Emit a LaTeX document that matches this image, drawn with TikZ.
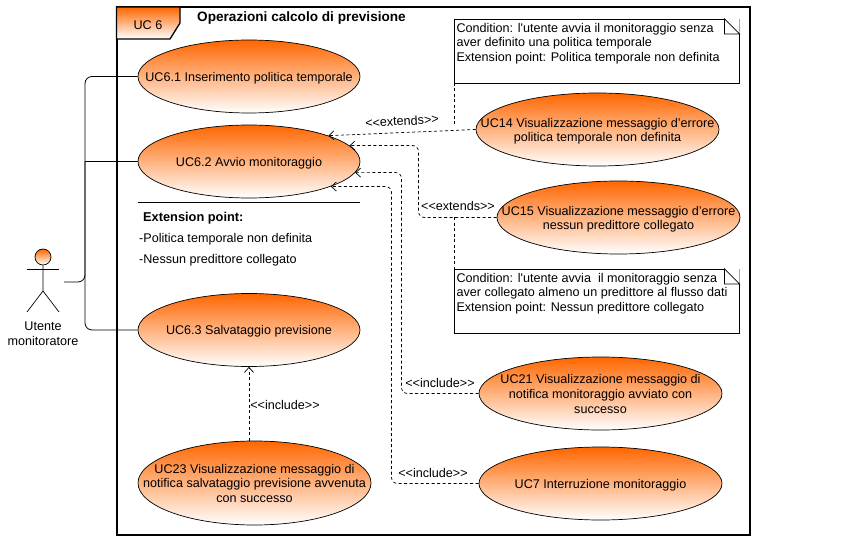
\documentclass[tikz,border=0pt]{standalone}
\usepackage{fontspec}
\usepackage{tikz}
\usetikzlibrary{shapes.geometric, arrows.meta}
\newfontfamily\ucfont{Liberation Sans}
\definecolor{ucorange}{RGB}{255,102,0}
\newcommand{\uclines}[1]{\makebox[0pt]{\smash{\raisebox{-5pt}{\begin{tabular}[c]{@{}c@{}}#1\end{tabular}}}}}
\newcommand{\notelines}[1]{\parbox[c][60pt][t]{281pt}{\vspace*{2pt}\raggedright #1}}
\newcommand{\notefold}[1]{
  \fill [white] ([xshift=-15pt]#1.north east) -- (#1.north east) -- ([yshift=-15pt]#1.north east) -- cycle;
  \draw [line width=0.7pt] ([xshift=-15pt]#1.north east) -- ([xshift=-15pt,yshift=-15pt]#1.north east) -- ([yshift=-15pt]#1.north east) -- cycle;
}
\tikzstyle{usecase} = [draw, ellipse, line width=0.7pt, inner sep=0pt, top color=ucorange, bottom color=white]
\tikzstyle{note} = [draw, line width=0.8pt, fill=white, inner sep=2pt, outer sep=0pt, anchor=north west]
\tikzstyle{assoc} = [thick, rounded corners=7pt]
\tikzstyle{dep} = [line width=0.7pt, dash pattern=on 3pt off 2.5pt, rounded corners=6pt, -{Straight Barb[length=5pt,width=9pt]}]
\tikzstyle{anchorline} = [line width=0.7pt, dash pattern=on 3pt off 2.5pt]
\begin{document}
\begin{tikzpicture}[x=1pt, y=-1pt, every node/.style={font=\ucfont\fontsize{12.6}{14.7}\selectfont, text=black}]
\useasboundingbox (0,0) rectangle (862,545);

\node (frame) [draw, line width=2pt, minimum width=633pt, minimum height=528pt, anchor=north west, inner sep=0pt, outer sep=0pt] at (116.5,7) {};
\draw [line width=1.3pt, top color=ucorange, bottom color=white] (116.5,7) -- (180,7) -- (180,23) -- (170,39) -- (116.5,39) -- cycle;
\node (frame tag) at (148,25) {UC 6};
\node (frame title) [anchor=west, inner sep=0pt, font=\ucfont\fontsize{13.6}{15}\selectfont] at (197,18) {\bfseries Operazioni calcolo di previsione};

\node (inserimento politica) [usecase, minimum width=222pt, minimum height=73pt] at (249,76.5) {\uclines{UC6.1 Inserimento politica temporale}};
\node (avvio monitoraggio) [usecase, minimum width=222pt, minimum height=73pt] at (249,161.5) {\uclines{UC6.2 Avvio monitoraggio}};
\node (salvataggio previsione) [usecase, minimum width=222pt, minimum height=73pt] at (249,330) {\uclines{UC6.3 Salvataggio previsione}};
\node (notifica salvataggio) [usecase, minimum width=233pt, minimum height=84pt] at (254.5,483) {\uclines{UC23 Visualizzazione messaggio di\\notifica salvataggio previsione avvenuta\\con successo}};
\node (errore politica) [usecase, minimum width=243pt, minimum height=73pt] at (597.5,129.5) {\uclines{UC14 Visualizzazione messaggio d’errore\\politica temporale non definita}};
\node (errore predittore) [usecase, minimum width=243pt, minimum height=73pt] at (618.5,217.5) {\uclines{UC15 Visualizzazione messaggio d’errore\\nessun predittore collegato}};
\node (notifica avvio) [usecase, minimum width=243pt, minimum height=73pt] at (600.5,393.5) {\uclines{UC21 Visualizzazione messaggio di\\notifica monitoraggio avviato con\\successo}};
\node (interruzione monitoraggio) [usecase, minimum width=243pt, minimum height=73pt] at (600.5,483.5) {\uclines{UC7 Interruzione monitoraggio}};

% extension points
\coordinate (rule left) at (138,202);
\coordinate (rule right) at (360,202);
\draw [thick] (rule left) -- (rule right);
\node (extension title) [anchor=west, inner sep=0pt, font=\ucfont\fontsize{12.8}{15}\selectfont] at (143,218.5) {\bfseries Extension point:};
\node (extension politica) [anchor=west, inner sep=0pt] at (139,239.5) {-Politica temporale non definita};
\node (extension predittore) [anchor=west, inner sep=0pt] at (139,260) {-Nessun predittore collegato};

% notes
\node (note politica) [note] at (454.5,19) {\notelines{Condition: l'utente avvia il monitoraggio senza\\aver definito una politica temporale\\Extension point: Politica temporale non definita}};
\notefold{note politica}
\node (note predittore) [note] at (454.5,269) {\notelines{Condition: l'utente avvia\ \ il monitoraggio senza\\aver collegato almeno un predittore al flusso dati\\Extension point: Nessun predittore collegato}};
\notefold{note predittore}

% actor
\node (actor head) [draw, circle, line width=0.7pt, inner sep=0pt, minimum size=16pt, top color=ucorange, bottom color=white] at (43,257) {};
\coordinate (actor hip) at (43,291);
\coordinate (actor left) at (27,269.5);
\coordinate (actor right) at (59,269.5);
\coordinate (actor foot left) at (27,312);
\coordinate (actor foot right) at (59,312);
\draw [line width=0.7pt] (actor head.south) -- (actor hip) -- (actor foot left);
\draw [line width=0.7pt] (actor hip) -- (actor foot right);
\draw [line width=0.7pt] (actor left) -- (actor right);
\node (actor name) [align=center, inner sep=0pt] at (43,333.5) {Utente\\monitoratore};

\coordinate (actor hand) at (64,282);
\coordinate (trunk) at (85,161.5);
\draw [assoc] (actor hand) -| (trunk) |- (inserimento politica.west);
\draw [assoc] (trunk) -- (avvio monitoraggio.west);
\draw [assoc] (trunk) |- (salvataggio previsione.west);

\draw [dep] (errore politica.west) -- (avvio monitoraggio.18);
\draw [dep] (errore predittore.west) -| (418.5,145.5) -- (avvio monitoraggio.9);
\draw [dep] (notifica avvio.west) -| (401.5,172.5) -- (avvio monitoraggio.-6);
\draw [dep] (interruzione monitoraggio.west) -| (391.5,186.5) -- (avvio monitoraggio.-17);
\draw [dep] (salvataggio previsione.south |- notifica salvataggio.north) -- (salvataggio previsione.south);

\coordinate (note politica foot) at (454.5,125);
\coordinate (note predittore head) at (454.5,217.5);
\draw [anchorline] (note politica.south west) -- (note politica foot);
\draw [anchorline] (note predittore head) -- (note predittore.north west);

\node (extends politica) [rotate=3] at (402,121) {<<extends>>};
\node (extends predittore) at (458,206) {<<extends>>};
\node (include avvio) at (440,383) {<<include>>};
\node (include interruzione) at (433,473) {<<include>>};
\node (include salvataggio) at (285,405) {<<include>>};

\end{tikzpicture}
\end{document}
